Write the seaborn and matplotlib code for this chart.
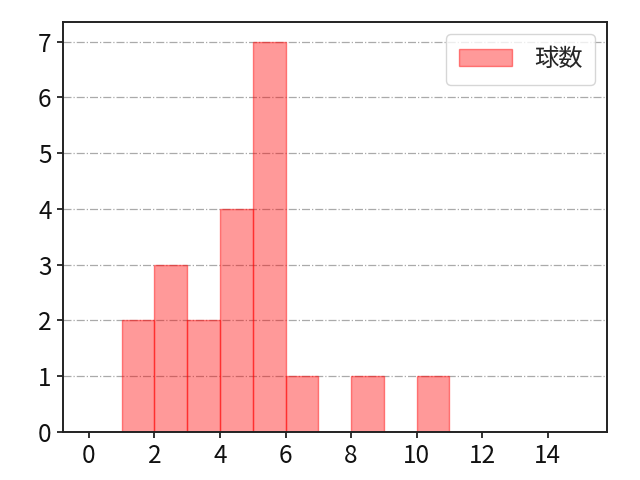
import matplotlib
matplotlib.use("Agg")
import matplotlib.pyplot as plt
import seaborn as sns
import pandas as pd

# pitch counts per appearance
bin_edges = list(range(0, 16))
pitch_counts = [1, 1, 2, 2, 2, 3, 3, 4, 4, 4, 4, 5, 5, 5, 5, 5, 5, 5, 6, 8, 10]
x_ticks = [0, 2, 4, 6, 8, 10, 12, 14]
y_ticks = [0, 1, 2, 3, 4, 5, 6, 7]

sns.set_style("ticks")
plt.rcParams['font.family'] = ['Noto Sans CJK JP', 'DejaVu Sans']

df = pd.DataFrame({"球数": pitch_counts})

fig, ax = plt.subplots(figsize=(6.4, 4.8), dpi=100)
fig.subplots_adjust(left=0.098, right=0.948, top=0.954, bottom=0.1)

sns.histplot(data=df, x="球数", bins=bin_edges, ax=ax, color="red", alpha=0.4,
             edgecolor=(1, 0, 0, 0.45), linewidth=1.0, label="球数")

ax.set_xlim(-0.8, 15.8)
ax.set_ylim(0, 7.35)
ax.set_xticks(x_ticks)
ax.set_yticks(y_ticks)
ax.set_xlabel("")
ax.set_ylabel("")
ax.tick_params(labelsize=17.5, width=1.3, length=4.5, pad=3.5,
               color="#222222", labelcolor="#111111")
for s in ax.spines.values():
    s.set_linewidth(1.4)
    s.set_color("#222222")
ax.grid(axis="y", linestyle="-.", color="#aaaaaa", linewidth=0.9)
ax.set_axisbelow(True)
ax.legend(loc="upper right", fontsize=17.5, handlelength=2.2, borderpad=0.5,
          handletextpad=0.9, frameon=True)

fig.savefig("out.png", dpi=100)
